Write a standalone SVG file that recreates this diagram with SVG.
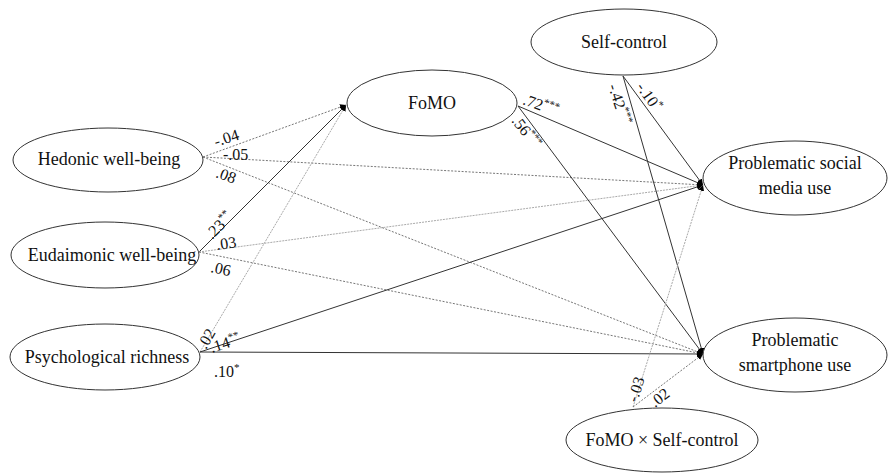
<svg xmlns="http://www.w3.org/2000/svg" width="893" height="475" viewBox="0 0 893 475">
<defs>
<marker id="ah" markerUnits="userSpaceOnUse" markerWidth="7" markerHeight="6" refX="6" refY="3" orient="auto">
<path d="M0,0 L6,3 L0,6 Z" fill="#000"/>
</marker>
<style>
.node ellipse{fill:#fff;stroke:#333;stroke-width:1}
.node text{font-family:"Liberation Serif","Times New Roman",serif;font-size:18px;fill:#111;text-anchor:middle}
.s{stroke:#333;stroke-width:1;fill:none;marker-end:url(#ah)}
.d{stroke:#777;stroke-width:1;stroke-dasharray:2,1.5;fill:none;marker-end:url(#ah)}
.l{stroke:#aaa;stroke-width:1;stroke-dasharray:2,1;fill:none;marker-end:url(#ah)}
.c{font-family:"Liberation Serif","Times New Roman",serif;font-size:16px;fill:#111}
.c tspan.a{font-size:11px}
</style>
</defs>
<rect width="893" height="475" fill="#fff"/>
<g id="connectors">
<line class="d" x1="203" y1="157" x2="346" y2="105"/>
<line class="d" x1="203" y1="157" x2="703" y2="185"/>
<line class="d" x1="203" y1="157" x2="703" y2="354"/>
<line class="s" x1="199" y1="252" x2="346" y2="105"/>
<line class="l" x1="199" y1="252" x2="703" y2="185"/>
<line class="d" x1="199" y1="252" x2="703" y2="354"/>
<line class="l" x1="200" y1="352" x2="346" y2="105"/>
<line class="s" x1="200" y1="352" x2="703" y2="185"/>
<line class="s" x1="200" y1="352" x2="703" y2="354"/>
<line class="s" x1="518" y1="106" x2="703" y2="185"/>
<line class="s" x1="518" y1="106" x2="703" y2="354"/>
<line class="s" x1="623" y1="76" x2="703" y2="185"/>
<line class="s" x1="623" y1="76" x2="703" y2="354"/>
<line class="l" x1="633" y1="407" x2="703" y2="185"/>
<line class="d" x1="633" y1="407" x2="703" y2="354"/>
</g>
<g id="labels">
<text class="c" transform="translate(216,147) rotate(-18)">-.04</text>
<text class="c" transform="translate(223,160)">-.05</text>
<text class="c" transform="translate(215,177) rotate(20)">.08</text>
<text class="c" transform="translate(212,240) rotate(-45)">.23<tspan class="a" dy="-6">**</tspan></text>
<text class="c" transform="translate(217,250) rotate(-8)">.03</text>
<text class="c" transform="translate(210,272) rotate(12)">.06</text>
<text class="c" transform="translate(206,350) rotate(-60)">.02</text>
<text class="c" transform="translate(212,353) rotate(-18)">.14<tspan class="a" dy="-6">**</tspan></text>
<text class="c" transform="translate(214,377)">.10<tspan class="a" dy="-6">*</tspan></text>
<text class="c" transform="translate(522,104) rotate(20)">.72<tspan class="a" dy="-6">***</tspan></text>
<text class="c" transform="translate(511,121) rotate(52)">.56<tspan class="a" dy="-6">***</tspan></text>
<text class="c" transform="translate(636,87) rotate(55)">-.10<tspan class="a" dy="-6">*</tspan></text>
<text class="c" transform="translate(608,86) rotate(72)">-.42<tspan class="a" dy="-6">***</tspan></text>
<text class="c" transform="translate(637,403) rotate(-72)">-.03</text>
<text class="c" transform="translate(655,408) rotate(-38)">.02</text>
</g>
<g id="hedonic" class="node"><ellipse cx="108" cy="160" rx="95" ry="32"/><text x="109" y="165">Hedonic well-being</text></g>
<g id="eudaimonic" class="node"><ellipse cx="105" cy="255" rx="94" ry="33"/><text x="112" y="261">Eudaimonic well-being</text></g>
<g id="richness" class="node"><ellipse cx="105" cy="357" rx="95" ry="33"/><text x="107" y="363">Psychological richness</text></g>
<g id="fomo" class="node"><ellipse cx="432" cy="103" rx="85" ry="33"/><text x="432" y="109">FoMO</text></g>
<g id="selfcontrol" class="node"><ellipse cx="624" cy="42" rx="93" ry="33"/><text x="624" y="48">Self-control</text></g>
<g id="psmu" class="node"><ellipse cx="795" cy="178" rx="92" ry="37"/><text x="795" y="169">Problematic social</text><text x="795" y="194">media use</text></g>
<g id="psu" class="node"><ellipse cx="795" cy="355" rx="92" ry="37"/><text x="795" y="346">Problematic</text><text x="795" y="371">smartphone use</text></g>
<g id="interaction" class="node"><ellipse cx="662" cy="440" rx="96" ry="32"/><text x="662" y="446">FoMO × Self-control</text></g>
</svg>
